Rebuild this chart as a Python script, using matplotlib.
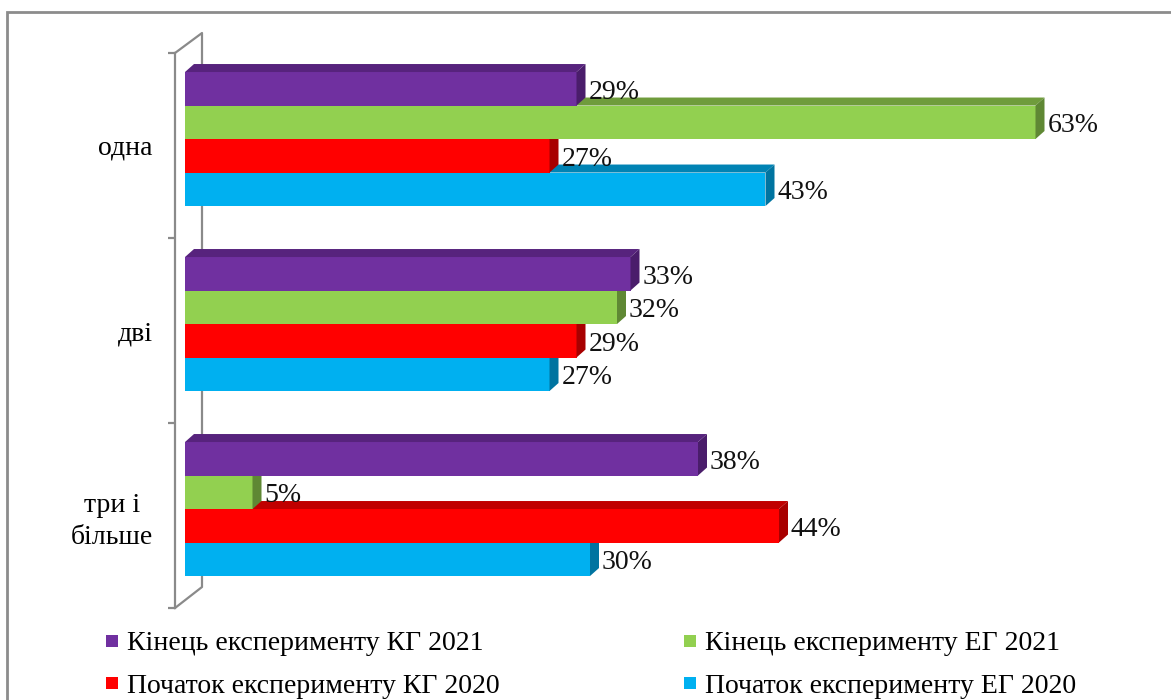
import matplotlib
matplotlib.use('Agg')
import matplotlib.pyplot as plt
from matplotlib.patches import Polygon, Rectangle
from matplotlib.lines import Line2D

plt.rcParams['font.family'] = ['Liberation Serif', 'DejaVu Serif']

categories = ['одна', 'дві', 'три і\nбільше']
series_names = ['Кінець експерименту КГ 2021', 'Кінець експерименту ЕГ 2021',
                'Початок експерименту КГ 2020', 'Початок експерименту ЕГ 2020']
kg_end_2021 = [29, 33, 38]
eg_end_2021 = [63, 32, 5]
kg_start_2020 = [27, 29, 44]
eg_start_2020 = [43, 27, 30]
series = [kg_end_2021, eg_end_2021, kg_start_2020, eg_start_2020]

front_colors = ['#7030A0', '#92D050', '#FF0000', '#00B0F0']
top_colors = ['#57237D', '#6F9C3C', '#C00000', '#0083B4']
side_colors = ['#4A1D6B', '#5F8834', '#A80000', '#0074A0']

W, H = 1171, 700
fig = plt.figure(figsize=(W / 100, H / 100), dpi=100)

# plot area in pixels
px_left, px_right, px_top, px_bot = 175, 1150, 53, 608
ax = fig.add_axes([px_left / W, 1 - px_bot / H, (px_right - px_left) / W, (px_bot - px_top) / H])
ppx = 13.5  # pixels per percent
x0 = -(185 - px_left) / ppx
ax.set_xlim(x0, x0 + (px_right - px_left) / ppx)
ax.set_ylim(2.5, -0.5)
ppy = (px_bot - px_top) / 3.0

# 3d depth of bars (pixels -> data)
ddx = 9 / ppx
ddy = 8 / ppy
h = 33.5 / ppy
shift = -0.035

for c in range(len(categories)):
    for k in reversed(range(len(series))):
        v = series[k][c]
        yc = c + shift + (k - 1.5) * h
        yt, yb = yc - h / 2, yc + h / 2
        ax.barh(yc, v, height=h, color=front_colors[k], linewidth=0, zorder=3 + (3 - k))
        ax.add_patch(Polygon([(0, yt), (v, yt), (v + ddx, yt - ddy), (ddx, yt - ddy)],
                             closed=True, facecolor=top_colors[k], linewidth=0,
                             zorder=3 + (3 - k)))
        ax.add_patch(Polygon([(v, yt), (v + ddx, yt - ddy), (v + ddx, yb - ddy), (v, yb)],
                             closed=True, facecolor=side_colors[k], linewidth=0,
                             zorder=3 + (3 - k)))
        ax.text(v + ddx + 3 / ppx, yc + 0.02, f'{v}%', va='center', ha='left',
                fontsize=20, color='#111111', zorder=20)

# walls
grey = '#8A8A8A'
for s in ['top', 'right', 'bottom']:
    ax.spines[s].set_visible(False)
ax.spines['left'].set_color(grey)
ax.spines['left'].set_linewidth(1.6)
ax.set_xticks([])
ax.set_yticks(range(len(categories)))
ax.set_yticklabels(categories, fontsize=20, multialignment='center', linespacing=1.35)
ax.tick_params(axis='y', which='major', length=0, pad=16)
ax.set_yticks([-0.5, 0.5, 1.5, 2.5], minor=True)
ax.tick_params(axis='y', which='minor', length=5, width=1.6, color=grey, direction='out')

bx = x0 + 27 / ppx
by = 20 / ppy
ax.plot([x0, bx, bx, x0], [-0.5, -0.5 - by, 2.5 - 21 / ppy, 2.5], color=grey, lw=1.6,
        clip_on=False, zorder=1)

# outer border
fig.add_artist(Rectangle((7 / W, -0.1), 1.2, 1 - 12 / H + 0.1, transform=fig.transFigure,
                         fill=False, edgecolor='#8C8C8C', linewidth=2))

handles = [Line2D([], [], marker='s', linestyle='none', markersize=9,
                  markerfacecolor=front_colors[k], markeredgewidth=0) for k in range(4)]
order = [0, 2, 1, 3]
fig.legend([handles[i] for i in order], [series_names[i] for i in order], ncol=2,
           loc='upper left', bbox_to_anchor=(80 / W, 1 - 606 / H), frameon=False,
           fontsize=20, handlelength=0.5, handletextpad=0.3, columnspacing=6.6,
           labelspacing=0.6)

fig.savefig('out.png', dpi=100)
